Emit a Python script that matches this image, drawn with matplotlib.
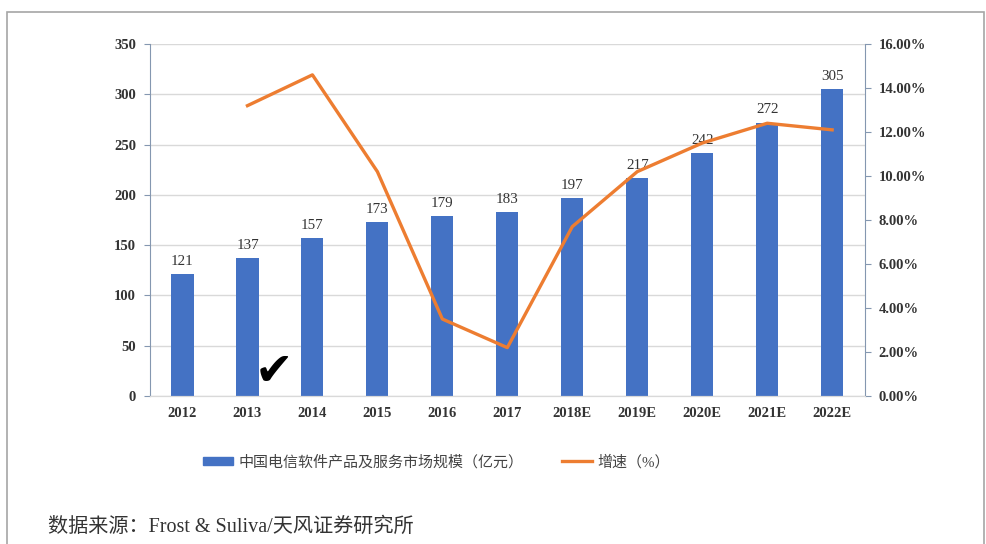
#!/usr/bin/env python3
"""China telecom software & services market size with growth rate"""

import matplotlib
matplotlib.use('Agg')
import matplotlib.pyplot as plt
from matplotlib.patches import Rectangle
from matplotlib.lines import Line2D
from matplotlib.ticker import FuncFormatter

# Data
years = ['2012', '2013', '2014', '2015', '2016', '2017',
         '2018E', '2019E', '2020E', '2021E', '2022E']
market_size = [121, 137, 157, 173, 179, 183, 197, 217, 242, 272, 305]
growth_years = years[1:]
growth_pct = [13.2, 14.6, 10.2, 3.5, 2.2, 7.7, 10.2, 11.5, 12.4, 12.1]

bar_label = '中国电信软件产品及服务市场规模（亿元）'
line_label = '增速（%）'
source_text = '数据来源：Frost & Suliva/天风证券研究所'

BAR_COLOR = '#4472C4'
LINE_COLOR = '#ED7D31'
SPINE_COLOR = '#8497B0'
SERIF = ['Liberation Serif', 'DejaVu Serif']
# serif for latin, falls back to Noto CJK for the Chinese characters
MIXED = ['Liberation Serif', 'Noto Sans CJK SC', 'DejaVu Sans']

fig = plt.figure(figsize=(9.87, 5.44), dpi=100)
ax = fig.add_axes([0.152, 0.272, 0.724, 0.647])
ax2 = ax.twinx()

x = list(range(len(years)))
ax.bar(x, market_size, width=0.34, color=BAR_COLOR, zorder=2)
for xi, v in zip(x, market_size):
    ax.text(xi, v + 6, str(v), ha='center', va='bottom',
            fontsize=10.8, family=SERIF, color='#333333')

gx = [years.index(y) for y in growth_years]
ax2.plot(gx, growth_pct, color=LINE_COLOR, linewidth=2.4, zorder=3)

# Axes ranges and ticks
ax.set_xlim(-0.5, len(years) - 0.5)
ax.set_ylim(0, 350)
ax.set_yticks(range(0, 351, 50))
ax2.set_ylim(0, 16)
ax2.set_yticks(range(0, 17, 2))
ax2.yaxis.set_major_formatter(FuncFormatter(lambda v, p: f'{v:.2f}%'))

ax.set_xticks(x)
ax.set_xticklabels(years)
for lbl in ax.get_xticklabels() + ax.get_yticklabels() + ax2.get_yticklabels():
    lbl.set_family(SERIF)
    lbl.set_fontweight('bold')
    lbl.set_fontsize(10.5)
    lbl.set_color('#333333')

ax.grid(axis='y', color='#D9D9D9', linewidth=1.0, zorder=0)
ax.set_axisbelow(True)
ax.tick_params(axis='x', length=0, pad=8)
ax.tick_params(axis='y', length=4, color=SPINE_COLOR, pad=6)
ax2.tick_params(axis='y', length=4, color=SPINE_COLOR, pad=6)

for a in (ax, ax2):
    a.spines['top'].set_visible(False)
    a.spines['left'].set_color(SPINE_COLOR)
    a.spines['right'].set_color(SPINE_COLOR)
    a.spines['bottom'].set_color('#D9D9D9')
ax2.spines['left'].set_visible(False)
ax.spines['right'].set_visible(False)

# Hand-drawn check mark from the scan
fig.text(0.278, 0.315, '✔', fontsize=33, color='black', ha='center', va='center',
         family='DejaVu Sans')

# Legend
handles = [Rectangle((0, 0), 1, 1, color=BAR_COLOR),
           Line2D([0], [0], color=LINE_COLOR, linewidth=2.4)]
leg = fig.legend(handles, [bar_label, line_label], loc='center',
                 bbox_to_anchor=(0.442, 0.151), ncol=2, frameon=False,
                 handlelength=2.0, handleheight=0.5, handletextpad=0.35,
                 columnspacing=2.6,
                 prop={'family': MIXED, 'size': 10.8})
for t in leg.get_texts():
    t.set_color('#444444')

# Source note
fig.text(0.049, 0.031, source_text, fontsize=14.5, color='#333333',
         family=MIXED, va='center')

# Outer frame of the screenshot
fig.patches.append(Rectangle((7 / 987, -0.05), (984 - 7) / 987, 1.05 - 12 / 544,
                             transform=fig.transFigure, fill=False,
                             edgecolor='#A6A6A6', linewidth=1.2))

fig.savefig('out.png', dpi=100)
